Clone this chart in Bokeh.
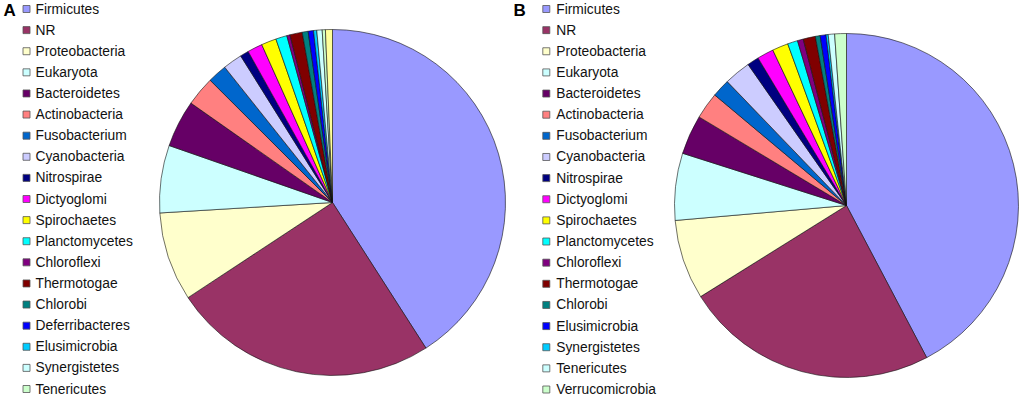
import numpy as np
from bokeh.plotting import figure
from bokeh.models import Range1d, ColumnDataSource
from bokeh.core.properties import value
from bokeh.embed import file_html
from bokeh.resources import INLINE

# ---------------- data ----------------
categories_a = ["Firmicutes", "NR", "Proteobacteria", "Eukaryota", "Bacteroidetes",
                "Actinobacteria", "Fusobacterium", "Cyanobacteria", "Nitrospirae",
                "Dictyoglomi", "Spirochaetes", "Planctomycetes", "Chloroflexi",
                "Thermotogae", "Chlorobi", "Deferribacteres", "Elusimicrobia",
                "Synergistetes", "Tenericutes", "Other"]
values_a = [40.9, 24.8, 8.3, 6.3, 4.4, 2.75, 1.8, 1.8, 0.8, 1.4, 1.4, 1.05, 0.3,
            1.15, 0.55, 0.5, 0.3, 0.5, 0.3, 0.65]
legend_count_a = 19

categories_b = ["Firmicutes", "NR", "Proteobacteria", "Eukaryota", "Bacteroidetes",
                "Actinobacteria", "Fusobacterium", "Cyanobacteria", "Nitrospirae",
                "Dictyoglomi", "Spirochaetes", "Planctomycetes", "Chloroflexi",
                "Thermotogae", "Chlorobi", "Elusimicrobia", "Synergistetes",
                "Tenericutes", "Verrucomicrobia"]
values_b = [42.3, 23.85, 7.5, 6.3, 3.7, 2.5, 1.7, 2.5, 1.1, 1.55, 1.5, 0.95, 0.55,
            1.15, 0.45, 0.55, 0.2, 0.6, 1.1]
legend_count_b = 19

palette = ["#9999FF", "#993366", "#FFFFCC", "#CCFFFF", "#660066", "#FF8080",
           "#0066CC", "#CCCCFF", "#000080", "#FF00FF", "#FFFF00", "#00FFFF",
           "#800080", "#800000", "#008080", "#0000FF", "#00CCFF", "#CCFFFF",
           "#CCFFCC", "#FFFF99"]

# ---------------- figure ----------------
W, H = 1020, 397
p = figure(width=W, height=H, output_backend="svg", toolbar_location=None,
           x_range=Range1d(0, W), y_range=Range1d(0, H),
           x_axis_type=None, y_axis_type=None, min_border=0)
p.outline_line_color = None
p.grid.visible = False
p.background_fill_color = "white"

FONT = value("Liberation Sans")


def py(img_y):
    return H - img_y


def draw_pie(cx, cy, r, vals, colors):
    v = np.asarray(vals, dtype=float)
    frac = v / v.sum() * 2 * np.pi
    cum = np.concatenate([[0.0], np.cumsum(frac)])
    src = ColumnDataSource(dict(start=np.pi / 2 - cum[:-1], end=np.pi / 2 - cum[1:],
                                color=colors[:len(v)]))
    p.wedge(x=cx, y=py(cy), radius=r, start_angle="start", end_angle="end",
            direction="clock", fill_color="color", line_color="#111111",
            line_width=0.6, source=src)


def draw_legend(names, colors, sq_x, txt_x, y0, y1, letter, letter_x, letter_y):
    n = len(names)
    ys = [y0 + (y1 - y0) * i / (n - 1) for i in range(n)]
    src = ColumnDataSource(dict(x=[sq_x] * n, tx=[txt_x] * n,
                                y=[py(y) for y in ys], name=names,
                                color=colors[:n]))
    p.rect(x="x", y="y", width=7, height=7, fill_color="color",
           line_color="#555555", line_width=0.8, source=src)
    p.text(x="tx", y="y", text="name", text_baseline="middle", text_align="left",
           text_font=FONT, text_font_size="13.8px", text_color="#111111", source=src)
    p.text(x=[letter_x], y=[py(letter_y)], text=[letter], text_baseline="middle",
           text_align="left", text_font=FONT, text_font_size="17px",
           text_font_style="bold", text_color="#000000")


draw_pie(332, 202, 173, values_a, palette)
draw_pie(846, 205, 172, values_b, palette)

draw_legend(categories_a[:legend_count_a], palette, 26.0, 35.0, 8.5, 388.5, "A", 3, 9.5)
draw_legend(categories_b[:legend_count_b], palette, 545.8, 555.7, 8.5, 389.0, "B", 513, 9.5)

open("out.html", "w").write(file_html(p, INLINE))
